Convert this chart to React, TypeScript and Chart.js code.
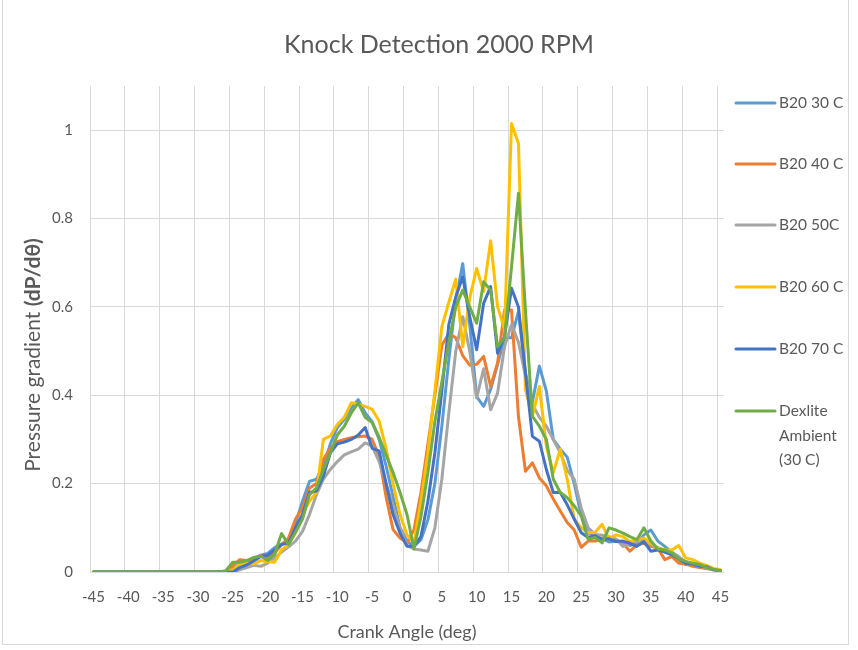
import React, { useEffect, useRef } from 'react';
import { Chart, registerables } from 'chart.js';

Chart.register(...registerables);

const chartTitle = 'Knock Detection 2000 RPM';
const xAxisTitle = 'Crank Angle (deg)';
const yAxisTitleNormal = 'Pressure gradient ';
const yAxisTitleBold = '(dP/dθ)';

const angles = [
  -45, -44, -43, -42, -41, -40, -39, -38, -37, -36, -35, -34, -33, -32, -31, -30,
  -29, -28, -27, -26, -25, -24, -23, -22, -21, -20, -19, -18, -17, -16, -15, -14,
  -13, -12, -11, -10, -9, -8, -7, -6, -5, -4, -3, -2, -1, 0, 1, 2, 3, 4, 5, 6, 7,
  8, 9, 10, 11, 12, 13, 14, 15, 16, 17, 18, 19, 20, 21, 22, 23, 24, 25, 26, 27, 28,
  29, 30, 31, 32, 33, 34, 35, 36, 37, 38, 39, 40, 41, 42, 43, 44, 45,
];

const xTickLabels = [-45, -40, -35, -30, -25, -20, -15, -10, -5, 0, 5, 10, 15, 20, 25, 30, 35, 40, 45];
const yTickValues = [0, 0.2, 0.4, 0.6, 0.8, 1];

const seriesNames = ['B20 30 C', 'B20 40 C', 'B20 50C', 'B20 60 C', 'B20 70 C', 'Dexlite Ambient (30 C)'];
const legendLines = [['B20 30 C'], ['B20 40 C'], ['B20 50C'], ['B20 60 C'], ['B20 70 C'], ['Dexlite', 'Ambient', '(30 C)']];
const seriesColors = ['#5B9BD5', '#ED7D31', '#A5A5A5', '#FFC000', '#4472C4', '#70AD47'];

const b20At30 = [
  0, 0, 0, 0, 0, 0, 0, 0, 0, 0, 0, 0, 0, 0, 0, 0, 0, 0, 0,
  0, 0.008, 0.018, 0.024, 0.03, 0.038, 0.042, 0.055, 0.063, 0.07,
  0.11, 0.16, 0.205, 0.21, 0.24, 0.29, 0.327, 0.345, 0.372, 0.39,
  0.36, 0.34, 0.3, 0.24, 0.17, 0.1,
  0.07, 0.058, 0.073, 0.118, 0.2, 0.33, 0.48, 0.615, 0.698, 0.56,
  0.397, 0.375, 0.413, 0.47, 0.53, 0.53, 0.59, 0.45, 0.385, 0.466,
  0.41, 0.3, 0.278, 0.26, 0.2, 0.13, 0.089, 0.08, 0.075, 0.068,
  0.07, 0.068, 0.06, 0.065, 0.084, 0.095, 0.07, 0.058, 0.045, 0.028,
  0.017, 0.02, 0.014, 0.012, 0.006, 0.004,
];

const b20At40 = [
  0, 0, 0, 0, 0, 0, 0, 0, 0, 0, 0, 0, 0, 0, 0, 0, 0, 0, 0,
  0, 0.015, 0.028, 0.026, 0.028, 0.037, 0.033, 0.042, 0.062, 0.077,
  0.12, 0.145, 0.19, 0.2, 0.255, 0.28, 0.295, 0.3, 0.304, 0.306,
  0.308, 0.3, 0.262, 0.17, 0.096, 0.077,
  0.066, 0.096, 0.18, 0.29, 0.4, 0.513, 0.54, 0.53, 0.49, 0.468,
  0.47, 0.488, 0.42, 0.473, 0.593, 0.593, 0.352, 0.228, 0.247, 0.213,
  0.195, 0.165, 0.138, 0.112, 0.095, 0.056, 0.07, 0.07, 0.075, 0.075,
  0.073, 0.065, 0.047, 0.062, 0.065, 0.058, 0.054, 0.028, 0.035, 0.02,
  0.018, 0.013, 0.01, 0.008, 0.005, 0.003,
];

const b20At50 = [
  0, 0, 0, 0, 0, 0, 0, 0, 0, 0, 0, 0, 0, 0, 0, 0, 0, 0, 0,
  0, 0, 0.005, 0.01, 0.015, 0.013, 0.02, 0.032, 0.045, 0.057,
  0.07, 0.092, 0.13, 0.175, 0.21, 0.232, 0.25, 0.265, 0.272, 0.278,
  0.292, 0.285, 0.25, 0.2, 0.15, 0.1,
  0.06, 0.052, 0.05, 0.047, 0.1, 0.21, 0.36, 0.5, 0.578, 0.5,
  0.394, 0.46, 0.367, 0.405, 0.51, 0.56, 0.52, 0.443, 0.38, 0.35,
  0.33, 0.3, 0.27, 0.23, 0.21, 0.145, 0.1, 0.085, 0.083, 0.08,
  0.075, 0.058, 0.065, 0.07, 0.072, 0.062, 0.055, 0.05, 0.045, 0.035,
  0.022, 0.017, 0.013, 0.009, 0.005, 0.003,
];

const b20At60 = [
  0, 0, 0, 0, 0, 0, 0, 0, 0, 0, 0, 0, 0, 0, 0, 0, 0, 0, 0,
  0, 0.005, 0.018, 0.02, 0.018, 0.026, 0.023, 0.022, 0.05, 0.062,
  0.09, 0.13, 0.16, 0.18, 0.3, 0.308, 0.334, 0.35, 0.383, 0.38,
  0.375, 0.368, 0.342, 0.28, 0.2, 0.13,
  0.084, 0.066, 0.16, 0.27, 0.41, 0.555, 0.61, 0.663, 0.51, 0.62,
  0.687, 0.635, 0.75, 0.6, 0.55, 1.015, 0.97, 0.413, 0.352, 0.42,
  0.285, 0.225, 0.278, 0.21, 0.12, 0.1, 0.089, 0.09, 0.108, 0.075,
  0.084, 0.08, 0.069, 0.073, 0.077, 0.065, 0.054, 0.05, 0.05, 0.06,
  0.032, 0.028, 0.02, 0.015, 0.008, 0.005,
];

const b20At70 = [
  0, 0, 0, 0, 0, 0, 0, 0, 0, 0, 0, 0, 0, 0, 0, 0, 0, 0, 0,
  0, 0, 0.01, 0.016, 0.025, 0.035, 0.038, 0.05, 0.062, 0.066,
  0.1, 0.13, 0.18, 0.183, 0.217, 0.27, 0.29, 0.294, 0.3, 0.31,
  0.327, 0.28, 0.274, 0.2, 0.13, 0.088,
  0.058, 0.058, 0.08, 0.16, 0.27, 0.41, 0.56, 0.623, 0.668, 0.578,
  0.503, 0.608, 0.646, 0.495, 0.533, 0.642, 0.6, 0.45, 0.307, 0.296,
  0.232, 0.18, 0.18, 0.152, 0.12, 0.089, 0.078, 0.082, 0.074, 0.075,
  0.069, 0.07, 0.065, 0.058, 0.069, 0.047, 0.05, 0.045, 0.039, 0.03,
  0.02, 0.018, 0.013, 0.012, 0.005, 0.003,
];

const dexliteAmbient = [
  0, 0, 0, 0, 0, 0, 0, 0, 0, 0, 0, 0, 0, 0, 0, 0, 0, 0, 0,
  0.003, 0.022, 0.022, 0.026, 0.033, 0.036, 0.026, 0.04, 0.087, 0.062,
  0.09, 0.12, 0.175, 0.19, 0.232, 0.27, 0.31, 0.33, 0.36, 0.383,
  0.35, 0.338, 0.305, 0.265, 0.225, 0.18,
  0.13, 0.052, 0.125, 0.225, 0.34, 0.43, 0.52, 0.6, 0.638, 0.6,
  0.563, 0.657, 0.638, 0.51, 0.53, 0.69, 0.857, 0.593, 0.352, 0.33,
  0.3, 0.21, 0.18, 0.168, 0.15, 0.127, 0.074, 0.078, 0.066, 0.1,
  0.095, 0.088, 0.08, 0.073, 0.1, 0.07, 0.052, 0.05, 0.043, 0.03,
  0.024, 0.02, 0.017, 0.01, 0.006, 0.003,
];

const seriesValues = [b20At30, b20At40, b20At50, b20At60, b20At70, dexliteAmbient];

const TEXT_COLOR = '#595959';
const GRID_COLOR = '#d9d9d9';
const FONT = 'Lato';

const textPlugin = {
  id: 'customTexts',
  afterDraw(chart: any) {
    const ctx = chart.ctx as CanvasRenderingContext2D;
    ctx.save();
    ctx.fillStyle = TEXT_COLOR;
    ctx.textBaseline = 'middle';
    ctx.textAlign = 'center';
    ctx.font = `25px ${FONT}`;
    ctx.fillText(chartTitle, 439, 45);
    ctx.font = `18px ${FONT}`;
    ctx.fillText(xAxisTitle, 407, 632);

    ctx.save();
    ctx.translate(33, 355);
    ctx.rotate(-Math.PI / 2);
    ctx.font = `21px ${FONT}`;
    const w1 = ctx.measureText(yAxisTitleNormal).width;
    ctx.font = `bold 21px ${FONT}`;
    const w2 = ctx.measureText(yAxisTitleBold).width;
    const x0 = -(w1 + w2) / 2;
    ctx.textAlign = 'left';
    ctx.font = `21px ${FONT}`;
    ctx.fillText(yAxisTitleNormal, x0, 0);
    ctx.font = `bold 21px ${FONT}`;
    ctx.fillText(yAxisTitleBold, x0 + w1, 0);
    ctx.restore();

    const legendY = [103, 164, 225, 287, 349, 411];
    ctx.textAlign = 'left';
    ctx.font = `15.5px ${FONT}`;
    legendLines.forEach((lines, i) => {
      const y = legendY[i];
      ctx.strokeStyle = seriesColors[i];
      ctx.lineWidth = 3;
      ctx.lineCap = 'round';
      ctx.beginPath();
      ctx.moveTo(736, y);
      ctx.lineTo(775, y);
      ctx.stroke();
      ctx.fillStyle = TEXT_COLOR;
      lines.forEach((t, j) => ctx.fillText(t, 779, y + j * 24.5));
    });
    ctx.restore();
  },
};

export default function App() {
  const canvasRef = useRef<HTMLCanvasElement | null>(null);

  useEffect(() => {
    if (!canvasRef.current) return;
    const chart = new Chart(canvasRef.current, {
      type: 'line',
      data: {
        labels: angles.map(String),
        datasets: seriesNames.map((name, i) => ({
          label: name,
          data: seriesValues[i],
          borderColor: seriesColors[i],
          backgroundColor: seriesColors[i],
          borderWidth: 3,
          pointRadius: 0,
          tension: 0,
          fill: false,
          order: seriesNames.length - i,
          borderJoinStyle: 'round' as const,
          borderCapStyle: 'round' as const,
        })),
      },
      options: {
        responsive: false,
        animation: false,
        layout: { padding: { left: 0, top: 86, right: 134, bottom: 0 } },
        plugins: {
          legend: { display: false },
          title: { display: false },
          tooltip: { enabled: false },
        },
        scales: {
          x: {
            type: 'category',
            offset: true,
            grid: {
              offset: true,
              drawTicks: false,
              lineWidth: 1,
              color: (ctx: any) => {
                const v = angles[ctx.index];
                return v !== undefined && xTickLabels.includes(v) ? GRID_COLOR : 'rgba(0,0,0,0)';
              },
            },
            border: { display: false },
            ticks: {
              autoSkip: false,
              maxRotation: 0,
              minRotation: 0,
              padding: 16,
              color: TEXT_COLOR,
              font: { family: FONT, size: 15 },
              callback: (_v: any, i: number) => (xTickLabels.includes(angles[i]) ? String(angles[i]) : ''),
            },
            afterFit: (scale: any) => {
              scale.height = 78;
            },
          },
          y: {
            min: 0,
            max: 1.1,
            afterBuildTicks: (scale: any) => {
              scale.ticks = yTickValues.map((v) => ({ value: v }));
            },
            grid: { color: GRID_COLOR, drawTicks: false, lineWidth: 1 },
            border: { display: false },
            ticks: {
              padding: 17,
              color: TEXT_COLOR,
              font: { family: FONT, size: 15 },
              callback: (v: any) => String(Math.round(Number(v) * 10) / 10),
            },
            afterFit: (scale: any) => {
              scale.width = 90;
            },
          },
        },
      },
      plugins: [textPlugin],
    } as any);
    return () => chart.destroy();
  }, []);

  return (
    <div style={{ position: 'relative', width: 858, height: 650, background: '#fff' }}>
      <style>{`body{margin:0;background:#fff;}`}</style>
      <canvas ref={canvasRef} width={858} height={650} style={{ position: 'absolute', left: 0, top: 0 }} />
      <div
        style={{
          position: 'absolute',
          left: 2,
          top: -2,
          width: 845,
          height: 645,
          border: `1px solid ${GRID_COLOR}`,
          pointerEvents: 'none',
        }}
      />
    </div>
  );
}
